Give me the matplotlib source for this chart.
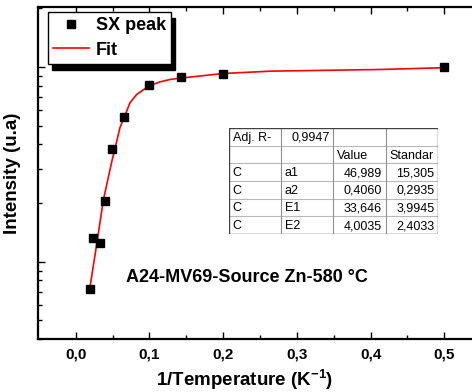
import matplotlib
matplotlib.use('Agg')
import matplotlib.pyplot as plt
from matplotlib.ticker import FixedLocator, NullFormatter, FuncFormatter

# ── data ─────────────────────────────────────────────────────────────────────
inv_T = [0.019, 0.024, 0.0326, 0.0393, 0.0492, 0.0659, 0.099, 0.1424, 0.1994, 0.5]
intensity = [7.19, 13.27, 12.41, 20.4, 37.9, 55.3, 80.6, 88.6, 91.5, 99.6]

fit_x = [0.019, 0.0293, 0.0374, 0.0492, 0.0601, 0.0659, 0.0737, 0.0827, 0.099,
         0.1144, 0.128, 0.1424, 0.1994, 0.2636, 0.4128, 0.5]
fit_y = [7.22, 12.85, 20.6, 32.96, 48.8, 55.3, 65.5, 72.2, 79.7,
         83.8, 86.2, 87.6, 92.5, 95.1, 97.0, 99.1]

x_ticks = [0.0, 0.1, 0.2, 0.3, 0.4, 0.5]

table_rows = [
    ['Adj. R-', '0,9947', '', ''],
    ['', '', 'Value', 'Standar'],
    ['C', 'a1', '46,989', '15,305'],
    ['C', 'a2', '0,4060', '0,2935'],
    ['C', 'E1', '33,646', '3,9945'],
    ['C', 'E2', '4,0035', '2,4033'],
]

sample = 'A24-MV69-Source Zn-580 °C'

# ── figure ───────────────────────────────────────────────────────────────────
plt.rcParams['font.family'] = ['Liberation Sans', 'DejaVu Sans']
plt.rcParams['mathtext.fontset'] = 'custom'
plt.rcParams['mathtext.rm'] = 'Liberation Sans'
plt.rcParams['mathtext.bf'] = 'Liberation Sans:bold'

fig = plt.figure(figsize=(4.72, 3.92), dpi=100, facecolor='white')
ax = fig.add_axes([0.0799, 0.135, 0.9396, 0.847])

ax.plot(fit_x, fit_y, color='red', lw=1.2, label='Fit', zorder=2)
ax.plot(inv_T, intensity, ls='none', marker='s', ms=5.5, color='black',
        label='SX peak', zorder=3)

ax.set_yscale('log')
ax.set_xlim(-0.0515, 0.55)
ax.set_ylim(4, 203)

ax.xaxis.set_major_locator(FixedLocator(x_ticks))
ax.xaxis.set_minor_locator(FixedLocator([0.05, 0.15, 0.25, 0.35, 0.45, 0.55]))
ax.xaxis.set_major_formatter(FuncFormatter(lambda v, p: f'{v:.1f}'.replace('.', ',')))
ax.yaxis.set_major_locator(FixedLocator([10, 100]))
ax.yaxis.set_minor_locator(FixedLocator([4, 5, 6, 7, 8, 9, 20, 30, 40, 50, 60, 70, 80, 90, 200]))
ax.yaxis.set_major_formatter(NullFormatter())
ax.yaxis.set_minor_formatter(NullFormatter())

ax.tick_params(which='both', direction='in', top=True, right=True, width=1.0)
ax.tick_params(which='major', length=5)
ax.tick_params(which='minor', length=3)
ax.tick_params(axis='x', labelsize=11, pad=6)
for lab in ax.get_xticklabels():
    lab.set_fontweight('bold')
for sp in ax.spines.values():
    sp.set_linewidth(1.6)

ax.set_xlabel(r'1/Temperature (K$^{\mathbf{-1}}$)', fontsize=13.5, fontweight='bold')
ax.xaxis.label.set_va('baseline')
ax.xaxis.set_label_coords(0.467, -0.142)
ax.set_ylabel('Intensity (u.a)', fontsize=13.5, fontweight='bold')
ax.yaxis.set_label_coords(-0.037, 0.5)

ax.text(0.199, 0.184, sample, transform=ax.transAxes, fontsize=13,
        fontweight='bold', ha='left', va='center')

handles, labels = ax.get_legend_handles_labels()
leg = ax.legend(handles[::-1], labels[::-1], loc='upper left',
                bbox_to_anchor=(0.023, 0.985), borderaxespad=0,
                fancybox=False, edgecolor='black', framealpha=1,
                prop={'weight': 'bold', 'size': 13}, handlelength=2.0,
                handletextpad=0.35, borderpad=0.3, labelspacing=0.4,
                shadow={'ox': 3, 'oy': -4, 'color': 'black', 'alpha': 1})
leg.get_frame().set_linewidth(1.0)

# ── parameter table ──────────────────────────────────────────────────────────
tax = fig.add_axes([0.485, 0.403, 0.443, 0.270])
tax.set_xlim(0, 4)
tax.set_ylim(6, 0)
tax.axis('off')
for i in range(1, 6):
    tax.plot([0, 4], [i, i], color='#b8b8b8', lw=0.8)
for j in range(1, 4):
    tax.plot([j, j], [0, 6], color='#909090', lw=0.8)
tax.plot([0, 4, 4, 0, 0], [0, 0, 6, 6, 0], color='#404040', lw=1.0)
for r, row in enumerate(table_rows):
    for c, txt in enumerate(row):
        if not txt:
            continue
        numeric = txt[0].isdigit()
        if numeric:
            tax.text(c + 0.93, r + 0.55, txt, ha='right', va='center', fontsize=9)
        else:
            tax.text(c + 0.07, r + 0.55, txt, ha='left', va='center', fontsize=9)

plt.savefig('out.png', dpi=100, facecolor='white')
plt.close()
